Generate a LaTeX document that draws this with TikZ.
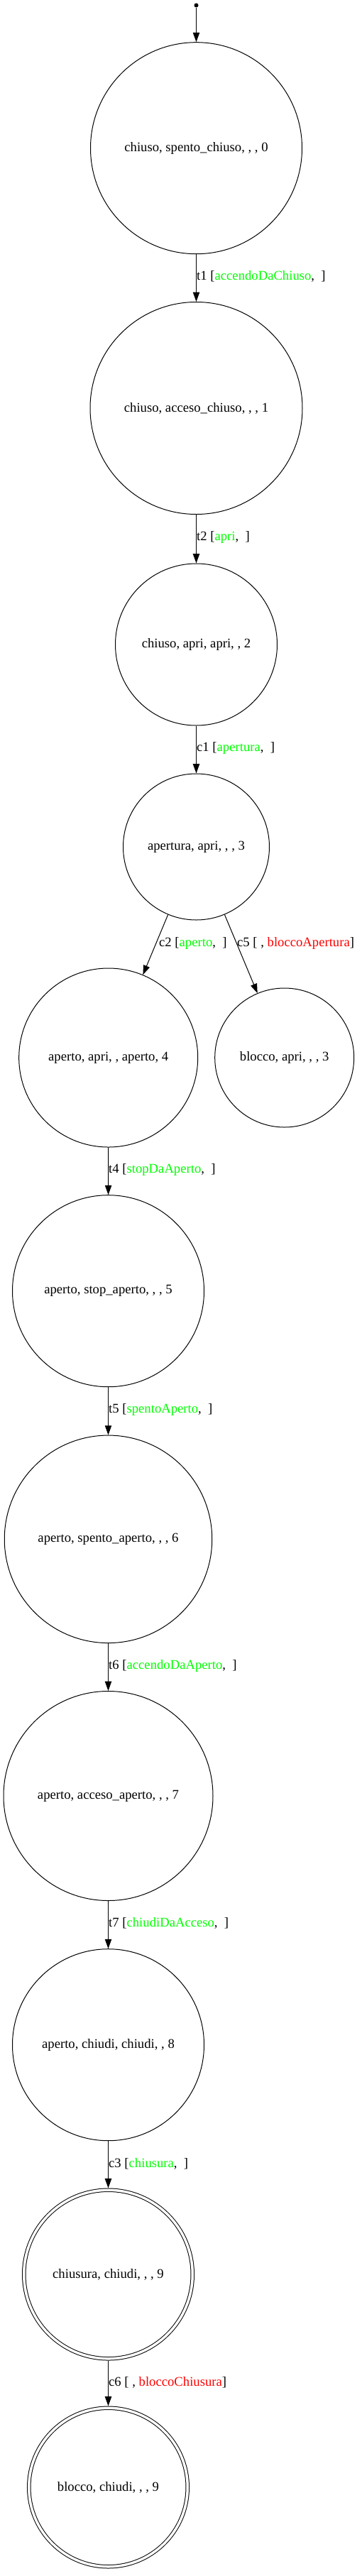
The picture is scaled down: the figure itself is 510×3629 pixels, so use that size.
\documentclass[tikz,border=0pt]{standalone}
\usepackage{fontspec}
\setmainfont{Liberation Serif}
\usetikzlibrary{arrows.meta}
\definecolor{gvgreen}{RGB}{0,255,0}
\definecolor{gvred}{RGB}{255,0,0}
\tikzset{
  state/.style={draw, circle, line width=1pt, inner sep=0pt, font=\fontsize{18.67}{22}\selectfont},
  final/.style={state, double, double distance=3.5pt, outer sep=2.75pt},
  edge/.style={line width=1pt, -{Triangle[length=13.3pt, width=9.3pt]}},
  lbl/.style={anchor=west, inner sep=0pt, font=\fontsize{18.67}{22}\selectfont},
  startdot/.style={circle, fill, inner sep=0pt, minimum size=6pt}
}
\newcommand{\gr}[1]{\textcolor{gvgreen}{#1}}
\newcommand{\rd}[1]{\textcolor{gvred}{#1}}
\begin{document}
\begin{tikzpicture}[x=1pt, y=-1pt]
\useasboundingbox (0,0) rectangle (510,3629);
\node[startdot] (s) at (276.5,7.5) {};
\node[state, minimum size=298pt] (n0) at (276.5,208.7) {chiuso, spento\_chiuso, , , 0};
\node[state, minimum size=299pt] (n1) at (276.5,575) {chiuso, acceso\_chiuso, , , 1};
\node[state, minimum size=228pt] (n2) at (276.5,908) {chiuso, apri, apri, , 2};
\node[state, minimum size=206pt] (n3) at (276.5,1193) {apertura, apri, , , 3};
\node[state, minimum size=252pt] (n4) at (152.7,1490) {aperto, apri, , aperto, 4};
\node[state, minimum size=196pt] (nb) at (400.7,1490) {blocco, apri, , , 3};
\node[state, minimum size=270pt] (n5) at (152.5,1818.7) {aperto, stop\_aperto, , , 5};
\node[state, minimum size=292.5pt] (n6) at (152.5,2168.3) {aperto, spento\_aperto, , , 6};
\node[state, minimum size=295pt] (n7) at (152.5,2530) {aperto, acceso\_aperto, , , 7};
\node[state, minimum size=270pt] (n8) at (152.5,2880.7) {aperto, chiudi, chiudi, , 8};
\node[final, minimum size=237.5pt] (n9) at (152.5,3204) {chiusura, chiudi, , , 9};
\node[final, minimum size=223.5pt] (n10) at (152.5,3504) {blocco, chiudi, , , 9};

\draw[edge] (s) -- (n0);
\draw[edge] (n0) -- (n1);
\draw[edge] (n1) -- (n2);
\draw[edge] (n2) -- (n3);
\draw[edge] (n3) -- (n4);
\draw[edge] (n3) -- (nb);
\draw[edge] (n4) -- (n5);
\draw[edge] (n5) -- (n6);
\draw[edge] (n6) -- (n7);
\draw[edge] (n7) -- (n8);
\draw[edge] (n8) -- (n9);
\draw[edge] (n9) -- (n10);

\node[lbl] (l1) at (277,389.5) {t1 [\gr{accendoDaChiuso},\ \ ]};
\node[lbl] (l2) at (277,757.5) {t2 [\gr{apri},\ \ ]};
\node[lbl] (l3) at (277,1054) {c1 [\gr{apertura},\ \ ]};
\node[lbl] (l4) at (224,1328.5) {c2 [\gr{aperto},\ \ ]};
\node[lbl] (l5) at (334,1328.5) {c5 [ , \rd{bloccoApertura}]};
\node[lbl] (l6) at (153,1647.5) {t4 [\gr{stopDaAperto},\ \ ]};
\node[lbl] (l7) at (153,1986) {t5 [\gr{spentoAperto},\ \ ]};
\node[lbl] (l8) at (153,2347) {t6 [\gr{accendoDaAperto},\ \ ]};
\node[lbl] (l9) at (153,2709.5) {t7 [\gr{chiudiDaAcceso},\ \ ]};
\node[lbl] (l10) at (153,3048) {c3 [\gr{chiusura},\ \ ]};
\node[lbl] (l11) at (153,3356) {c6 [ , \rd{bloccoChiusura}]};
\end{tikzpicture}
\end{document}
